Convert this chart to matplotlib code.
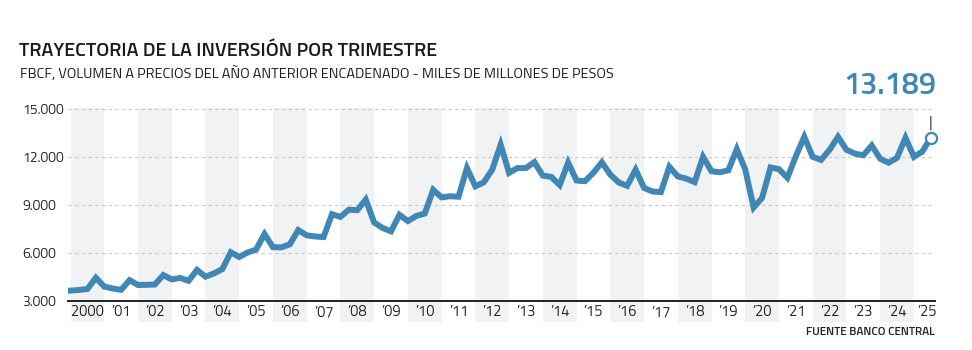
import matplotlib
matplotlib.use("Agg")
import matplotlib.pyplot as plt
import numpy as np

# FBCF trimestral, miles de millones de pesos (2000 T1 - 2025 T3)
fbcf = [
    3650, 3690, 3750, 4450,      # 2000
    3900, 3780, 3700, 4300,      # 2001
    4000, 4010, 4030, 4620,      # 2002
    4350, 4440, 4260, 4940,      # 2003
    4520, 4720, 4990, 6040,      # 2004
    5750, 6030, 6210, 7180,      # 2005
    6360, 6350, 6540, 7430,      # 2006
    7100, 7030, 6990, 8420,      # 2007
    8250, 8700, 8670, 9330,      # 2008
    7900, 7560, 7350, 8380,      # 2009
    7990, 8310, 8460, 9940,      # 2010
    9470, 9540, 9510, 11300,     # 2011
    10160, 10410, 11200, 12760,  # 2012
    11000, 11300, 11300, 11670,  # 2013
    10830, 10750, 10240, 11640,  # 2014
    10520, 10480, 11010, 11660,  # 2015
    10890, 10400, 10190, 11200,  # 2016
    10060, 9840, 9800, 11380,    # 2017
    10780, 10640, 10420, 12000,  # 2018
    11100, 11040, 11160, 12480,  # 2019
    11210, 8840, 9440, 11340,    # 2020
    11230, 10690, 12040, 13250,  # 2021
    12000, 11810, 12440, 13250,  # 2022
    12440, 12200, 12100, 12710,  # 2023
    11880, 11630, 11940, 13190,  # 2024
    12000, 12330, 13189,         # 2025
]

years = list(range(2000, 2026))
year_labels = ["2000"] + ["\u2019" + str(y)[2:] for y in years[1:]]
y_ticks = [3000, 6000, 9000, 12000, 15000]
y_tick_labels = ["3.000", "6.000", "9.000", "12.000", "15.000"]
last_label = "13.189"

blue = "#4187B5"
plt.rcParams['font.family'] = ["Titillium Web", "DejaVu Sans"]

W, H = 972, 350
fig = plt.figure(figsize=(W / 100, H / 100), dpi=100)
ax = fig.add_axes([68 / W, 1 - 301 / H, 867 / W, 193 / H])

x = np.arange(len(fbcf))

# bandas grises en años pares
for i, yr in enumerate(years):
    if yr % 2 == 0:
        ax.axvspan(4 * i, 4 * i + 4, ymin=-0.11, ymax=1, color="#F0F2F4",
                   lw=0, clip_on=False, zorder=0)

ax.plot(x, fbcf, color=blue, lw=4.3, solid_joinstyle="miter", zorder=3)
ax.plot(x[-1], fbcf[-1], "o", ms=8, mfc="white", mec=blue, mew=1.6,
        zorder=4, clip_on=False)

ax.set_xlim(-0.3, 102.5)
ax.set_ylim(3000, 15050)

ax.set_yticks(y_ticks)
ax.set_yticklabels(y_tick_labels)
ax.yaxis.grid(True, color="#C9C9C9", ls=(0, (3, 3)), lw=0.8)
ax.set_axisbelow(True)

xt = [4 * i + 2 for i in range(len(years) - 1)] + [101.5]
ax.set_xticks(xt)
ax.set_xticklabels(year_labels)

ax.tick_params(axis="y", length=0, pad=33, labelsize=10, labelcolor="#222222")
ax.tick_params(axis="x", length=0, pad=3, labelsize=10.5, labelcolor="#222222")
for lab in ax.get_yticklabels():
    lab.set_horizontalalignment("left")

for s in ["top", "right", "left"]:
    ax.spines[s].set_visible(False)
ax.spines["bottom"].set_color("#222222")
ax.spines["bottom"].set_linewidth(1.4)
ax.spines["bottom"].set_zorder(5)

# anotación del último dato
ax.annotate("", xy=(x[-1], fbcf[-1] + 330), xytext=(x[-1], 14700),
            arrowprops=dict(arrowstyle="-", color="#555555", lw=1),
            annotation_clip=False)
fig.text(936 / W, 1 - 94 / H, last_label, ha="right", va="baseline",
         fontsize=22, fontweight="semibold", color=blue)

fig.text(19 / W, 1 - 56 / H, "TRAYECTORIA DE LA INVERSIÓN POR TRIMESTRE",
         ha="left", va="baseline", fontsize=14.2, fontweight="semibold",
         color="#1A1A1A")
fig.text(20 / W, 1 - 78 / H,
         "FBCF, VOLUMEN A PRECIOS DEL AÑO ANTERIOR ENCADENADO - MILES DE MILLONES DE PESOS",
         ha="left", va="baseline", fontsize=10.4, color="#1A1A1A")
fig.text(935 / W, 1 - 335 / H, "FUENTE BANCO CENTRAL", ha="right",
         va="baseline", fontsize=8.5, fontweight="semibold", color="#222222")

fig.savefig("out.png", dpi=100, facecolor="white")
